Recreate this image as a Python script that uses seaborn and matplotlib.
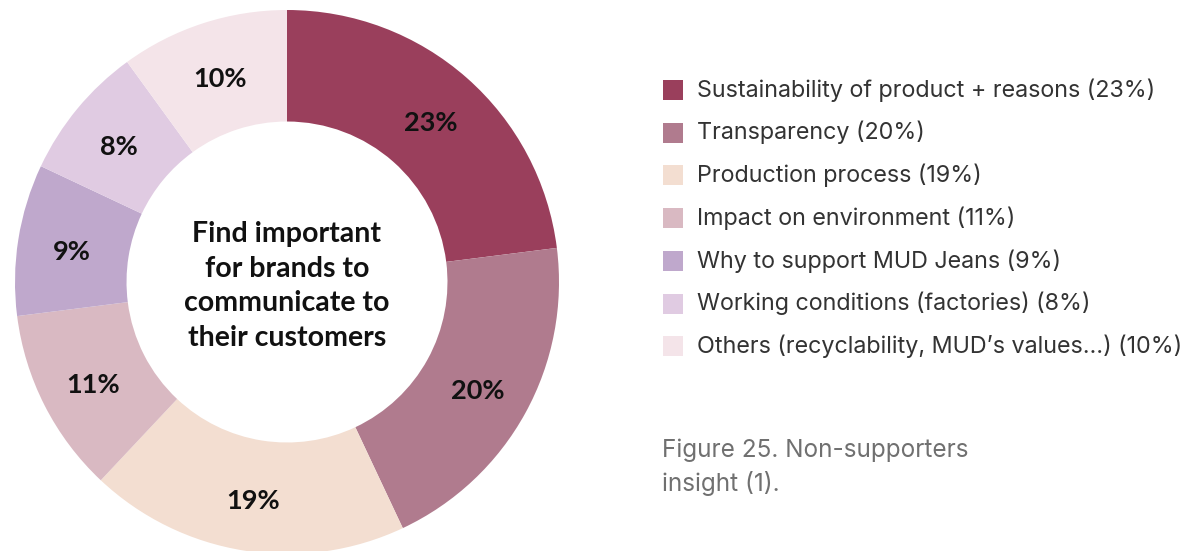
import matplotlib
matplotlib.use("Agg")
import matplotlib.pyplot as plt
from matplotlib.patches import Rectangle
import seaborn as sns

# Survey shares, clockwise from 12 o'clock
categories = [
    "Sustainability of product + reasons",
    "Transparency",
    "Production process",
    "Impact on environment",
    "Why to support MUD Jeans",
    "Working conditions (factories)",
    "Others (recyclability, MUD\u2019s values\u2026)",
]
shares = [23, 20, 19, 11, 9, 8, 10]
colors = ["#9a3f5c", "#b07b8e", "#f3ded1", "#d9b9c2", "#bfa8cc", "#e0cbe2", "#f4e4e9"]
center_lines = ["Find important", "for brands to", "communicate to", "their customers"]
caption_lines = ["Figure 25. Non-supporters", "insight (1)."]

sns.set_theme(style="white")
plt.rcParams["font.family"] = ["Lato", "DejaVu Sans"]

W, H = 1189, 551
fig = plt.figure(figsize=(W / 100, H / 100), dpi=100)
fig.patch.set_facecolor("white")

# Donut: centre (287, 282) px from top, outer radius 272 px
cx, cy, r = 287, 282, 272
ax = fig.add_axes([(cx - r) / W, (H - cy - r) / H, 2 * r / W, 2 * r / H])
palette = sns.color_palette(colors)
wedges, texts, autotexts = ax.pie(
    shares,
    colors=palette,
    startangle=90,
    counterclock=False,
    radius=1.0,
    wedgeprops=dict(width=0.41, linewidth=0),
    autopct=lambda p: f"{p:.0f}%",
    pctdistance=0.80,
    textprops=dict(fontsize=19.5, fontweight="bold", color="#111111"),
)
# nudge the percentage labels slightly downward
for t in autotexts:
    x, y = t.get_position()
    t.set_position((x, y - 0.015))
ax.set_xlim(-1, 1)
ax.set_ylim(-1, 1)
ax.set_aspect("equal")
ax.axis("off")

ax.text(0, -0.015, "\n".join(center_lines), ha="center", va="center",
        fontsize=20.5, fontweight="bold", color="#111111", linespacing=1.42)

# Legend drawn in figure pixels
lx, ly0, step = 663, 90, 42.7
for i, (cat, val, col) in enumerate(zip(categories, shares, colors)):
    y = ly0 + i * step
    fig.patches.append(Rectangle((lx / W, (H - y - 10) / H), 20 / W, 20 / H,
                                 transform=fig.transFigure, facecolor=col,
                                 edgecolor="none"))
    fig.text(697 / W, (H - y) / H, f"{cat} ({val}%)", ha="left", va="center",
             fontsize=16.8, color="#333333", family=["Inter", "DejaVu Sans"],
             fontweight="normal")

for j, line in enumerate(caption_lines):
    fig.text(662 / W, (H - 450 - 33 * j) / H, line, ha="left", va="center",
             fontsize=17.5, color="#707070", family=["Inter", "DejaVu Sans"],
             fontweight="normal")

fig.savefig("out.png", dpi=100, facecolor="white")
